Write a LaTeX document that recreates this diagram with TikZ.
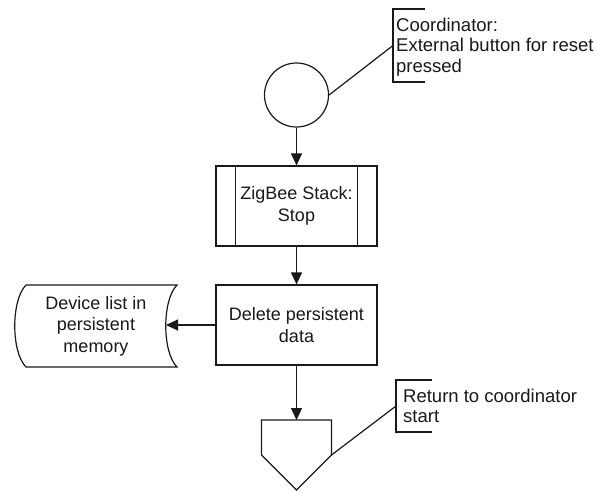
\documentclass[tikz,border=0pt]{standalone}
\usepackage{fontspec}
\setmainfont{Liberation Sans}
\usetikzlibrary{arrows.meta}
\begin{document}
\begin{tikzpicture}[x=1pt,y=-1pt,
  line/.style={line width=1.2pt, draw=black!90},
  arr/.style={line, -{Triangle[length=12pt,width=11pt]}},
  txt/.style={font=\fontsize{18}{21.5}\selectfont, align=center, text=black!90},
  note/.style={font=\fontsize{18.5}{20.5}\selectfont, align=left, inner sep=0pt, anchor=north west, text=black!90},
  boxstyle/.style={line, draw, minimum width=161pt, minimum height=80pt, txt, inner sep=0pt}
]
\useasboundingbox (0,0) rectangle (597,491);
\fill[white] (0,0) rectangle (597,491);
% start circle
\node[line, draw, circle, minimum size=64pt, inner sep=0pt] (start) at (296.5,95) {};
% ZigBee stack (predefined process)
\node[boxstyle] (stack) at (296.5,206) {ZigBee Stack:\\Stop};
\draw[line] ([xshift=20pt]stack.north west) -- ([xshift=20pt]stack.south west);
\draw[line] ([xshift=-20pt]stack.north east) -- ([xshift=-20pt]stack.south east);
% delete box
\node[boxstyle] (del) at (296.5,325) {Delete persistent\\data};
% stored data
\node[txt, inner sep=0pt] (doc) at (96,326) {Device list in\\persistent\\memory};
\draw[line] (26,285) -- (177,285) .. controls (162,300) and (162,352) .. (177,367)
  -- (26,367) .. controls (11,352) and (11,300) .. (26,285);
\coordinate (docR) at (166,325);
% off-page connector
\coordinate (mtop) at (296.5,420);
\coordinate (mright) at (331.5,455);
\draw[line] (261.5,420) -- (331.5,420) -- (mright) -- (296.5,490) -- (261.5,455) -- cycle;
% connectors
\draw[arr] (start.south) -- (stack.north);
\draw[arr] (stack.south) -- (del.north);
\draw[arr] (del.west) -- (docR);
\draw[arr] (del.south) -- (mtop);
% annotation 1
\coordinate (n1) at (393,45.5);
\draw[line] (425,9) -- (393,9) -- (393,82) -- (425,82);
\draw[line] (start.east) -- (n1);
\node[note] (n1t) at (396,17.5) {Coordinator:\\External button for reset\\pressed};
% annotation 2
\coordinate (n2) at (396,406);
\draw[line] (432,380) -- (396,380) -- (396,432) -- (432,432);
\draw[line] (mright) -- (n2);
\node[note] (n2t) at (403,388.5) {Return to coordinator\\start};
\end{tikzpicture}
\end{document}
